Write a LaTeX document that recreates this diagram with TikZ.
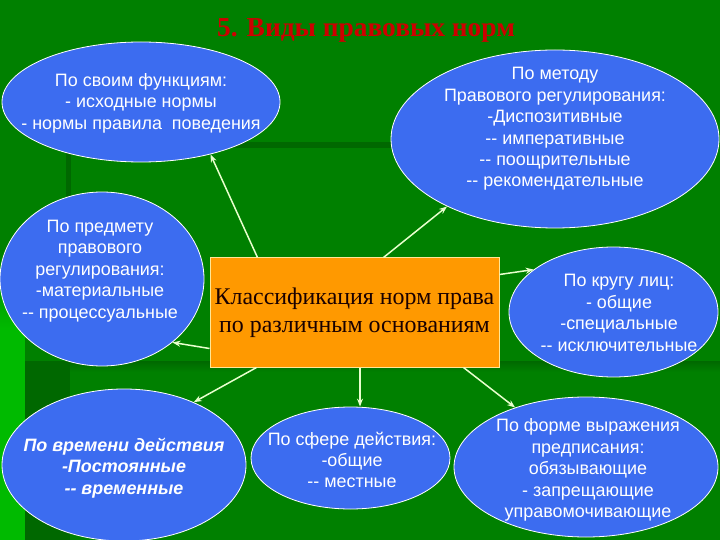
\documentclass[tikz,border=0pt]{standalone}
\usepackage{fontspec}
\setmainfont{Liberation Serif}
\newfontfamily\arialf{Liberation Sans}
\usetikzlibrary{shapes.geometric,arrows.meta}
\definecolor{bg}{RGB}{0,128,0}
\definecolor{bgbright}{RGB}{0,186,0}
\definecolor{bgdark}{RGB}{0,104,0}
\definecolor{elblue}{RGB}{60,108,240}
\definecolor{orangebox}{RGB}{255,153,0}
\definecolor{boxedge}{RGB}{255,230,150}
\definecolor{arrowc}{RGB}{232,255,205}
\definecolor{titlered}{RGB}{205,0,0}
\tikzset{
  ell/.style={ellipse, draw=white, line width=0.8bp, fill=elblue, inner sep=0pt},
  etext/.style={text=white, align=center, font=\arialf\fontsize{18}{21.5}\selectfont},
  arr/.style={draw=arrowc, line width=1.5bp, -{Stealth[length=8bp,width=6bp]}},
}
\begin{document}
\begin{tikzpicture}[x=1bp,y=-1bp]
\useasboundingbox (0,0) rectangle (720,540);
% background template
\fill[bg] (0,0) rectangle (720,540);
\shade[top color=bg, bottom color=bgbright] (0,250) rectangle (25,330);
\fill[bgbright] (0,330) rectangle (25,540);
\fill[bgdark] (65,142) rectangle (395,148);
\fill[bgdark] (66,142) rectangle (71,200);
\shade[top color=bgdark, bottom color=bg] (25,361) rectangle (720,372);
\fill[bgdark] (25,361) rectangle (70,540);
% title
\node[font=\bfseries\fontsize{27.5}{31}\selectfont, text=titlered] (title) at (366,30) {5. Виды правовых норм};
% ellipses
\node[ell, minimum width=278bp, minimum height=120bp] (e1) at (141,102) {};
\node[ell, minimum width=328bp, minimum height=178bp] (e2) at (555,139) {};
\node[ell, minimum width=204bp, minimum height=174bp] (e3) at (102,279) {};
\node[ell, minimum width=209bp, minimum height=130bp] (e4) at (613.5,312) {};
\node[ell, minimum width=244bp, minimum height=152bp] (e5) at (124,465) {};
\node[ell, minimum width=199bp, minimum height=102bp] (e6) at (350.5,458) {};
\node[ell, minimum width=264bp, minimum height=140bp] (e7) at (586,467) {};
% texts
\node[etext] (t1) at (141,103) {По своим функциям:\\- исходные нормы\\- нормы правила~~поведения};
\node[etext] (t2) at (555,129) {По методу\\Правового регулирования:\\-Диспозитивные\\-- императивные\\-- поощрительные\\-- рекомендательные};
\node[etext] (t3) at (100,271) {По предмету\\правового\\регулирования:\\-материальные\\-- процессуальные};
\node[etext] (t4) at (619,313) {По кругу лиц:\\- общие\\-специальные\\-- исключительные};
\node[etext, font=\arialf\bfseries\itshape\fontsize{18}{21.5}\selectfont] (t5) at (124,468) {По времени действия\\-Постоянные\\-- временные};
\node[etext] (t6) at (352,460) {По сфере действия:\\-общие\\-- местные};
\node[etext] (t7) at (588,470) {По форме выражения\\предписания:\\обязывающие\\- запрещающие\\управомочивающие};
% central box
\node[draw=boxedge, line width=1bp, fill=orangebox, minimum width=289bp, minimum height=109bp, inner sep=0pt,
      align=center, text=black!90!red, font=\fontsize{24}{28}\selectfont] (r) at (354.5,312.5)
      {Классификация норм права\\по различным основаниям};
% arrows
\coordinate (s6) at ([xshift=5.5bp]r.south);
\draw[arr] ([xshift=48bp]r.north west) -- (e1.-37);
\draw[arr] ([xshift=174bp]r.north west) -- (e2.-148);
\draw[arr] ([yshift=-17bp]r.north east) -- (e4.152);
\draw[arr] ([yshift=19bp]r.south west) -- (e3.-42);
\draw[arr] ([xshift=47bp]r.south west) -- (e5.42);
\draw[arr] (s6) -- (s6 |- e6.north);
\draw[arr] ([xshift=-36bp]r.south east) -- (e7.140);
\end{tikzpicture}
\end{document}
